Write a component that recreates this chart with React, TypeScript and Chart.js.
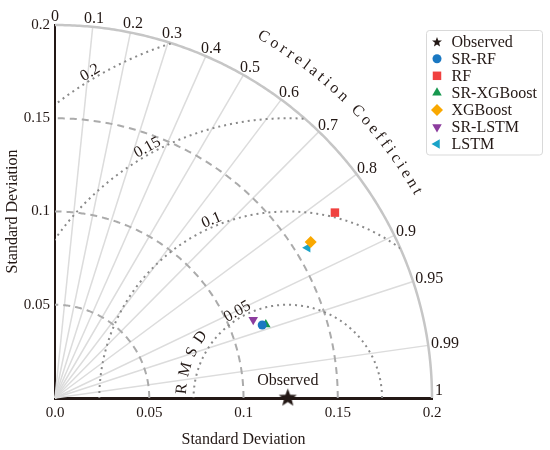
import React, { useEffect, useRef } from 'react';
import { Chart, registerables } from 'chart.js';

Chart.register(...registerables);

// ---- data ----
const models = ['SR-RF', 'RF', 'SR-XGBoost', 'XGBoost', 'SR-LSTM', 'LSTM'];
const modelStd = [0.1167, 0.1787, 0.1186, 0.1594, 0.1132, 0.1564];
const modelCorr = [0.942, 0.831, 0.943, 0.851, 0.929, 0.857];
const observedStd = 0.1235;

const stdTicks = [0, 0.05, 0.1, 0.15, 0.2];
const stdArcs = [0.05, 0.1, 0.15];
const corrTicks = [0, 0.1, 0.2, 0.3, 0.4, 0.5, 0.6, 0.7, 0.8, 0.9, 0.95, 0.99, 1];
const rmsdLevels = [0.05, 0.1, 0.15, 0.2];
const rmsdLabelAngles = [120, 113, 119, 121]; // degrees, around the observed point

// ---- styles ----
const FONT = 'Liberation Serif';
const INK = '#231815';

type Marker = { shape: string; rotation: number; radius: number; color: string };
const markerStyles: Marker[] = [
  { shape: 'circle', rotation: 0, radius: 4.5, color: '#1a78c2' },
  { shape: 'rect', rotation: 0, radius: 6, color: '#f0413f' },
  { shape: 'triangle', rotation: 0, radius: 5.5, color: '#17984f' },
  { shape: 'rectRot', rotation: 0, radius: 6, color: '#f9a800' },
  { shape: 'triangle', rotation: 180, radius: 5.5, color: '#8c3d9e' },
  { shape: 'triangle', rotation: -90, radius: 5.5, color: '#1aa3c8' },
];

function starPath(ctx: CanvasRenderingContext2D, x: number, y: number, R: number) {
  const r = R * 0.42;
  ctx.beginPath();
  for (let i = 0; i < 10; i++) {
    const a = -Math.PI / 2 + (i * Math.PI) / 5;
    const rr = i % 2 === 0 ? R : r;
    const px = x + rr * Math.cos(a);
    const py = y + rr * Math.sin(a);
    if (i === 0) ctx.moveTo(px, py);
    else ctx.lineTo(px, py);
  }
  ctx.closePath();
}

function makeStar(R: number) {
  const c = document.createElement('canvas');
  const size = Math.ceil(R * 2 + 2);
  c.width = size;
  c.height = size;
  const g = c.getContext('2d')!;
  g.fillStyle = INK;
  starPath(g, size / 2, size / 2, R);
  g.fill();
  return c;
}

// small re-implementation of the point shapes for the legend
function drawMarker(ctx: CanvasRenderingContext2D, m: Marker, x: number, y: number) {
  ctx.save();
  ctx.translate(x, y);
  ctx.rotate((m.rotation * Math.PI) / 180);
  ctx.fillStyle = m.color;
  const r = m.radius;
  ctx.beginPath();
  if (m.shape === 'circle') {
    ctx.arc(0, 0, r, 0, Math.PI * 2);
  } else if (m.shape === 'rect') {
    const s = r * Math.SQRT1_2;
    ctx.rect(-s, -s, 2 * s, 2 * s);
  } else if (m.shape === 'rectRot') {
    ctx.moveTo(0, -r);
    ctx.lineTo(r, 0);
    ctx.lineTo(0, r);
    ctx.lineTo(-r, 0);
    ctx.closePath();
  } else {
    for (let i = 0; i < 3; i++) {
      const a = -Math.PI / 2 + (i * 2 * Math.PI) / 3;
      const px = r * Math.cos(a);
      const py = r * Math.sin(a);
      if (i === 0) ctx.moveTo(px, py);
      else ctx.lineTo(px, py);
    }
    ctx.closePath();
  }
  ctx.fill();
  ctx.restore();
}

// letters laid along an arc, walking clockwise from startDeg
function drawArcText(
  ctx: CanvasRenderingContext2D,
  text: string,
  cx: number,
  cy: number,
  R: number,
  startDeg: number,
  spacing: number
) {
  let a = (startDeg * Math.PI) / 180;
  let prevW = 0;
  for (let i = 0; i < text.length; i++) {
    const ch = text[i];
    const w = ctx.measureText(ch).width;
    if (i > 0) a -= (prevW / 2 + spacing + w / 2) / R;
    prevW = w;
    if (ch === ' ') continue;
    ctx.save();
    ctx.translate(cx + R * Math.cos(a), cy - R * Math.sin(a));
    ctx.rotate(Math.PI / 2 - a);
    ctx.fillText(ch, 0, 0);
    ctx.restore();
  }
}

const fmt = (v: number) => (v === 0 ? '0.0' : String(v));

const taylorPlugin = {
  id: 'taylor',
  beforeDatasetsDraw(chart: Chart) {
    const { ctx } = chart;
    const xs = chart.scales.x;
    const ys = chart.scales.y;
    const P = (x: number, y: number) => [xs.getPixelForValue(x), ys.getPixelForValue(y)];
    const maxStd = stdTicks[stdTicks.length - 1];
    const arcPath = (cx: number, r: number, a0: number, a1: number, n = 240) => {
      ctx.beginPath();
      for (let i = 0; i <= n; i++) {
        const a = a0 + ((a1 - a0) * i) / n;
        const [px, py] = P(cx + r * Math.cos(a), r * Math.sin(a));
        if (i === 0) ctx.moveTo(px, py);
        else ctx.lineTo(px, py);
      }
    };
    const [ox, oy] = P(0, 0);

    ctx.save();
    // correlation rays
    ctx.strokeStyle = '#dcdcdc';
    ctx.lineWidth = 1.5;
    corrTicks
      .filter((c) => c > 0 && c < 1)
      .forEach((c) => {
        const a = Math.acos(c);
        const [x1, y1] = P(maxStd * Math.cos(a), maxStd * Math.sin(a));
        ctx.beginPath();
        ctx.moveTo(ox, oy);
        ctx.lineTo(x1, y1);
        ctx.stroke();
      });

    // standard deviation arcs
    ctx.strokeStyle = '#ababab';
    ctx.lineWidth = 2;
    ctx.setLineDash([7, 5]);
    stdArcs.forEach((r) => {
      arcPath(0, r, 0, Math.PI / 2);
      ctx.stroke();
    });

    // outer arc
    ctx.setLineDash([]);
    ctx.strokeStyle = '#c6c6c6';
    ctx.lineWidth = 2.5;
    arcPath(0, maxStd, 0, Math.PI / 2);
    ctx.stroke();

    // RMSD contours, clipped to the quarter disc
    ctx.save();
    arcPath(0, maxStd, 0, Math.PI / 2);
    ctx.lineTo(ox, oy);
    ctx.closePath();
    ctx.clip();
    ctx.strokeStyle = '#8a8a8a';
    ctx.lineWidth = 2;
    ctx.setLineDash([2, 4]);
    rmsdLevels.forEach((r) => {
      arcPath(observedStd, r, 0, Math.PI);
      ctx.stroke();
    });
    ctx.restore();

    ctx.fillStyle = INK;
    ctx.font = `16px "${FONT}"`;
    ctx.textAlign = 'center';
    ctx.textBaseline = 'middle';

    // RMSD labels
    rmsdLevels.forEach((r, i) => {
      const a = (rmsdLabelAngles[i] * Math.PI) / 180;
      const rr = r + 0.0035;
      const [px, py] = P(observedStd + rr * Math.cos(a), rr * Math.sin(a));
      ctx.save();
      ctx.translate(px, py);
      ctx.rotate(Math.PI / 2 - a);
      ctx.fillText(String(r), 0, 0);
      ctx.restore();
    });

    // correlation labels
    corrTicks.forEach((c) => {
      const a = Math.acos(c);
      const label = String(c);
      const w = ctx.measureText(label).width;
      const ra = maxStd * 1.008;
      let [px, py] = P(ra * Math.cos(a), ra * Math.sin(a));
      px += (Math.cos(a) * w) / 2;
      py -= (Math.sin(a) * 11) / 2;
      if (c === 1) py -= 7;
      ctx.fillText(label, px, py);
    });

    // curved titles
    const Rcc = xs.getPixelForValue(0.2212) - ox;
    drawArcText(ctx, 'Correlation Coefficient', ox, oy, Rcc, 60, 3.6);
    const [obx, oby] = P(observedStd, 0);
    const Rr = xs.getPixelForValue(0.0563) - ox;
    drawArcText(ctx, 'RMSD', obx, oby, Rr, 175, 7);
    ctx.restore();
  },
  afterDatasetsDraw(chart: Chart) {
    const { ctx } = chart;
    const el = chart.getDatasetMeta(0).data[0];
    if (!el) return;
    ctx.save();
    ctx.fillStyle = INK;
    ctx.font = `16px "${FONT}"`;
    ctx.textAlign = 'center';
    ctx.textBaseline = 'middle';
    ctx.fillText('Observed', el.x, el.y - 17);
    ctx.restore();
  },
  afterDraw(chart: Chart) {
    const { ctx } = chart;
    const bx = 426.5;
    const by = 30.5;
    const bw = 116;
    const bh = 124.5;
    ctx.save();
    ctx.fillStyle = '#ffffff';
    ctx.strokeStyle = '#d9d9d9';
    ctx.lineWidth = 1;
    ctx.beginPath();
    ctx.roundRect(bx, by, bw, bh, 3);
    ctx.fill();
    ctx.stroke();
    const names = ['Observed', ...models];
    ctx.font = `16px "${FONT}"`;
    ctx.textAlign = 'left';
    ctx.textBaseline = 'middle';
    names.forEach((name, i) => {
      const y = 41.7 + i * 17.05;
      if (i === 0) {
        ctx.fillStyle = INK;
        starPath(ctx, 437, y + 0.5, 5.2);
        ctx.fill();
      } else {
        drawMarker(ctx, markerStyles[i - 1], 437, y);
      }
      ctx.fillStyle = INK;
      ctx.fillText(name, 451.5, y + 1);
    });
    ctx.restore();
  },
};

export default function App() {
  const canvasRef = useRef<HTMLCanvasElement>(null);

  useEffect(() => {
    if (!canvasRef.current) return;

    const star = makeStar(9.5);
    const datasets: any[] = [
      {
        label: 'Observed',
        data: [{ x: observedStd, y: 0 }],
        pointStyle: star,
        pointRadius: 9.5,
        clip: false,
      },
      ...models.map((name, i) => {
        const m = markerStyles[i];
        const c = modelCorr[i];
        const s = modelStd[i];
        return {
          label: name,
          data: [{ x: s * c, y: s * Math.sqrt(1 - c * c) }],
          pointStyle: m.shape,
          pointRotation: m.rotation,
          pointRadius: m.radius,
          pointBackgroundColor: m.color,
          pointBorderColor: m.color,
          pointBorderWidth: 0,
          clip: false,
        };
      }),
    ];

    const chart = new Chart(canvasRef.current, {
      type: 'scatter',
      data: { datasets },
      options: {
        responsive: false,
        animation: false,
        events: [],
        font: { family: FONT, size: 16 },
        layout: { padding: { top: 25, right: 118, left: 0, bottom: 0 } },
        plugins: {
          legend: { display: false },
          tooltip: { enabled: false },
        },
        scales: {
          x: {
            type: 'linear',
            min: 0,
            max: 0.2,
            afterBuildTicks: (s: any) => {
              s.ticks = stdTicks.map((v) => ({ value: v }));
            },
            afterFit: (s: any) => {
              s.height = 52;
            },
            grid: { display: false, drawTicks: false },
            border: { display: true, color: INK, width: 3 },
            ticks: {
              padding: 6,
              color: INK,
              maxRotation: 0,
              font: { family: FONT, size: 15 },
              callback: (v: any) => fmt(Number(v)),
            },
            title: {
              display: true,
              text: 'Standard Deviation',
              color: INK,
              font: { family: FONT, size: 16 },
              padding: { top: 0, bottom: 1 },
            },
          },
          y: {
            type: 'linear',
            min: 0,
            max: 0.2,
            afterBuildTicks: (s: any) => {
              s.ticks = stdTicks.map((v) => ({ value: v }));
            },
            afterFit: (s: any) => {
              s.width = 55;
            },
            grid: { display: false, drawTicks: false },
            border: { display: true, color: INK, width: 2 },
            ticks: {
              padding: 5,
              color: INK,
              font: { family: FONT, size: 15 },
              callback: (v: any) => (Number(v) === 0 ? '' : fmt(Number(v))),
            },
            title: {
              display: true,
              text: 'Standard Deviation',
              color: INK,
              font: { family: FONT, size: 16 },
              padding: { top: 3, bottom: 0 },
            },
          },
        },
      },
      plugins: [taylorPlugin as any],
    });

    return () => {
      chart.destroy();
    };
  }, []);

  return (
    <div style={{ position: 'absolute', left: 0, top: 0, width: 550, height: 450 }}>
      <canvas ref={canvasRef} width={550} height={450} />
    </div>
  );
}
